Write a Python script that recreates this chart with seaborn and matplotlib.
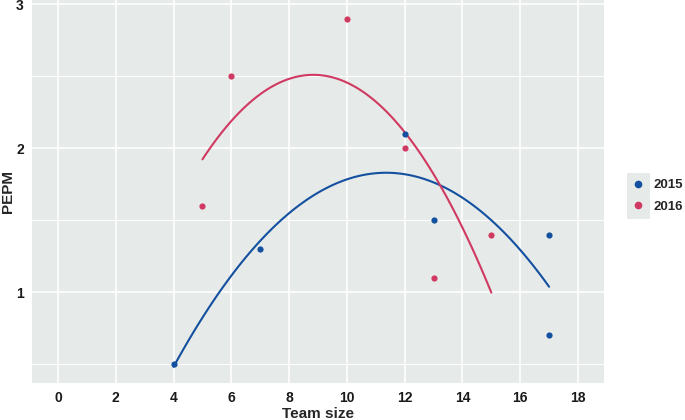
import matplotlib
matplotlib.use('Agg')
import matplotlib.pyplot as plt
import seaborn as sns
import pandas as pd
import numpy as np
from matplotlib.lines import Line2D
from matplotlib.patches import Rectangle

# Data
team_2015 = [4, 7, 12, 13, 17, 17]
pepm_2015 = [0.5, 1.3, 2.1, 1.5, 1.4, 0.7]
team_2016 = [5, 6, 10, 12, 13, 15]
pepm_2016 = [1.6, 2.5, 2.9, 2.0, 1.1, 1.4]
years = ['2015', '2016']

COLORS = {'2015': '#1450A0', '2016': '#D03A62'}
PANEL_BG = '#E6EAE8'

df = pd.DataFrame({
    'team': team_2015 + team_2016,
    'pepm': pepm_2015 + pepm_2016,
    'year': ['2015'] * len(team_2015) + ['2016'] * len(team_2016),
})

sns.set_style('white')
plt.rcParams['font.family'] = ['Liberation Sans', 'DejaVu Sans']

W, H = 685, 420
fig = plt.figure(figsize=(W / 100, H / 100), dpi=100)
ax = fig.add_axes([32 / W, 1 - 383 / H, (604 - 32) / W, 383 / H])
ax.set_facecolor(PANEL_BG)

# quadratic fit per year, like geom_smooth(method='lm', formula=y ~ poly(x, 2))
for y in years:
    sub = df[df['year'] == y]
    sns.regplot(data=sub, x='team', y='pepm', order=2, ci=None, truncate=True,
                scatter_kws={'s': 20, 'color': COLORS[y], 'alpha': 1,
                             'linewidths': 0, 'zorder': 4},
                line_kws={'color': COLORS[y], 'lw': 1.5, 'zorder': 3},
                ax=ax)

ax.set_xlim(-0.9, 18.9)
ax.set_ylim(0.37, 3.03)
ax.set_xticks(np.arange(0, 19, 2))
ax.set_yticks([1, 2, 3])
ax.set_yticks([0.5, 1.5, 2.5], minor=True)
ax.grid(True, which='major', color='white', lw=1.1, zorder=0)
ax.grid(True, which='minor', axis='y', color='white', lw=0.7, zorder=0)
ax.set_axisbelow(True)
for s in ax.spines.values():
    s.set_visible(False)

ax.tick_params(axis='both', which='major', length=3, width=0.8, color='#333333',
               labelsize=10, labelcolor='#1a1a1a', pad=3)
ax.tick_params(axis='y', which='minor', length=0)
for lbl in ax.get_xticklabels() + ax.get_yticklabels():
    lbl.set_fontweight('bold')

ax.set_xlabel('Team size', fontsize=11, fontweight='bold', labelpad=1)
ax.set_ylabel('PEPM', fontsize=11, fontweight='bold', labelpad=1)

# legend key backgrounds
for top in (173, 196):
    fig.patches.append(Rectangle((627 / W, 1 - (top + 23) / H), 23 / W, 23 / H,
                                 transform=fig.transFigure, facecolor=PANEL_BG,
                                 edgecolor='none', zorder=0))

handles = [Line2D([0], [0], marker='o', ls='', color=COLORS[y], markersize=4.5) for y in years]
fig.legend(handles, years, loc='center left', bbox_to_anchor=(634 / W, 1 - 196 / H),
           frameon=False, borderpad=0, borderaxespad=0, handlelength=0.6,
           handletextpad=0.9, labelspacing=0.7,
           prop={'weight': 'bold', 'size': 9.5})

fig.savefig('out.png', dpi=100)
